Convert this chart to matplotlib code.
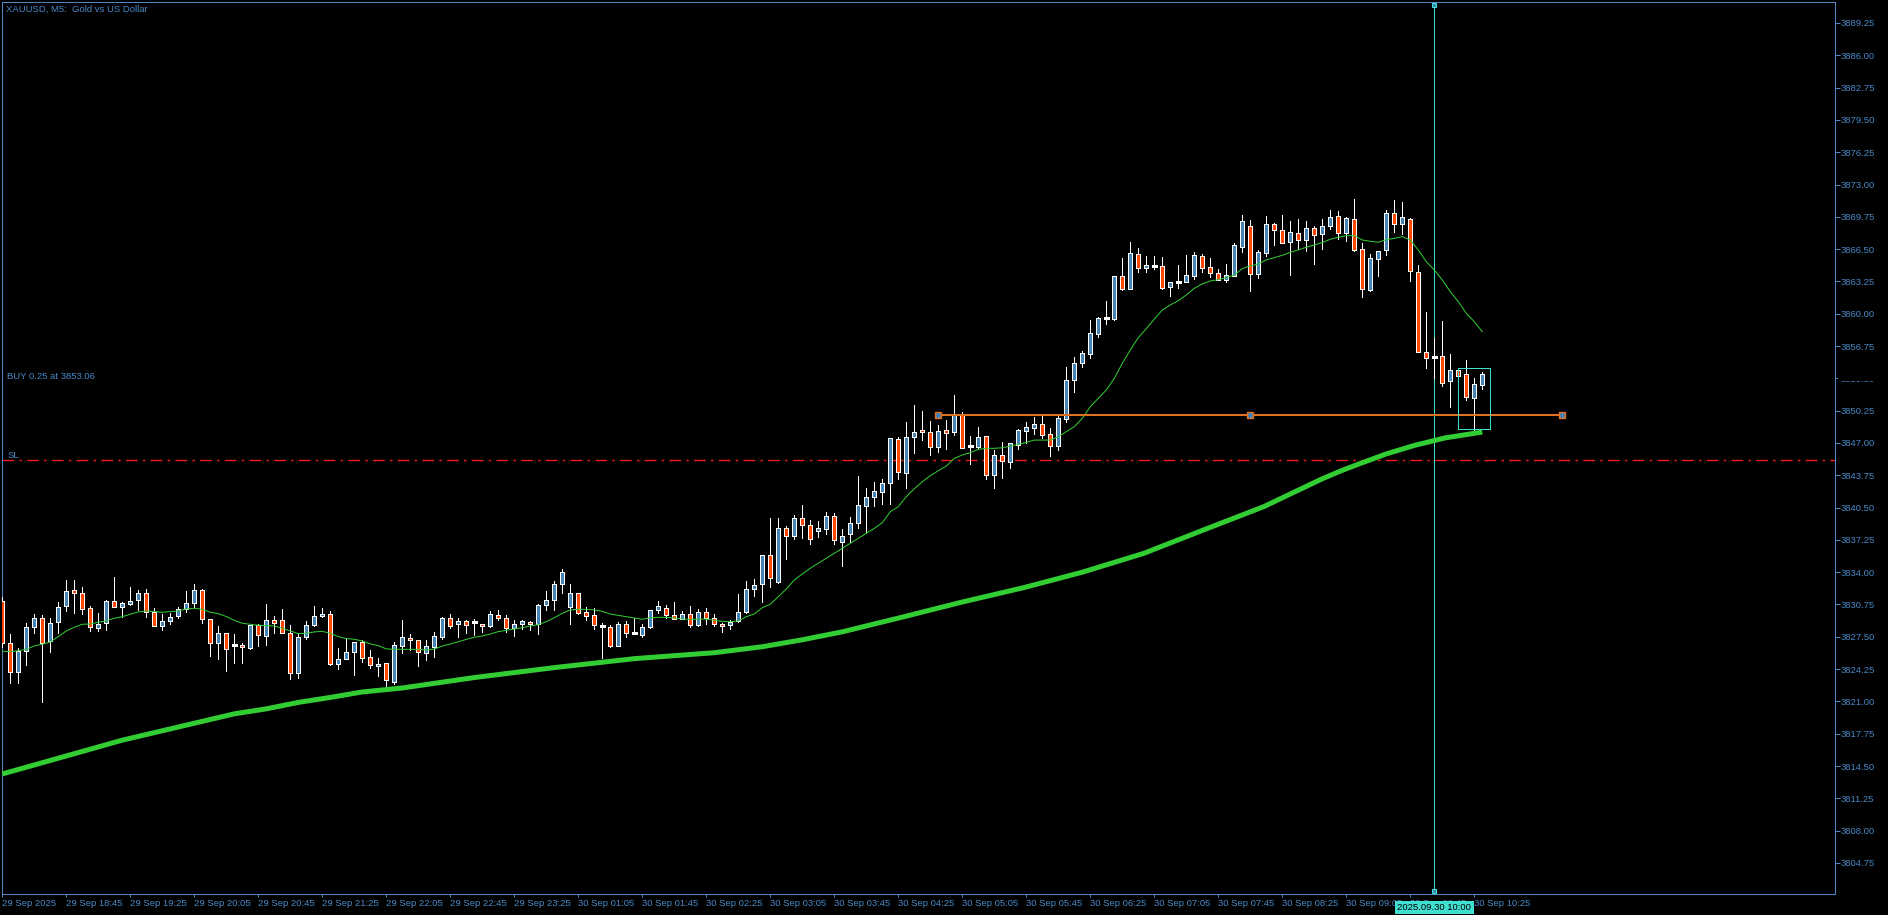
import matplotlib
matplotlib.use('Agg')
import matplotlib.pyplot as plt
from matplotlib.patches import Rectangle

# ---------------- data ----------------
opens = [3831.07, 3826.85, 3823.93, 3826.04, 3828.46, 3829.36, 3827.05, 3828.96, 3830.57, 3832.18,
         3831.88, 3830.37, 3828.36, 3828.86, 3831.07, 3830.47, 3830.77, 3831.17, 3831.88, 3829.97,
         3828.56, 3829.06, 3829.56, 3830.27, 3830.87, 3832.18, 3829.26, 3826.85, 3827.85, 3826.65,
         3826.65, 3826.41, 3828.66, 3827.62, 3829.16, 3829.16, 3827.85, 3823.83, 3827.45, 3828.66,
         3829.56, 3829.76, 3824.80, 3825.24, 3825.94, 3826.95, 3825.44, 3824.53, 3824.83, 3822.92,
         3826.61, 3827.35, 3827.14, 3825.84, 3826.44, 3827.51, 3829.36, 3828.75, 3829.06, 3829.00,
         3828.75, 3828.55, 3829.66, 3829.36, 3828.35, 3828.75, 3828.95, 3828.75, 3830.66, 3831.17,
         3832.78, 3830.46, 3831.87, 3829.96, 3829.66, 3828.55, 3828.45, 3826.61, 3828.75, 3827.85,
         3827.71, 3828.45, 3830.16, 3830.36, 3829.66, 3829.26, 3829.76, 3828.65, 3829.96, 3829.36,
         3828.75, 3828.65, 3829.06, 3829.96, 3832.28, 3832.78, 3835.70, 3832.98, 3838.41, 3837.61,
         3839.42, 3838.74, 3838.10, 3838.34, 3839.65, 3837.00, 3837.80, 3838.91, 3840.69, 3841.59,
         3842.09, 3842.94, 3847.40, 3844.01, 3847.63, 3848.30, 3848.10, 3846.62, 3848.30, 3848.07,
         3849.91, 3846.73, 3846.62, 3847.70, 3843.81, 3845.79, 3845.12, 3846.83, 3848.23, 3848.54,
         3848.90, 3847.90, 3846.73, 3849.44, 3853.36, 3855.08, 3855.98, 3858.00, 3859.57, 3859.50,
         3863.79, 3862.52, 3866.01, 3864.57, 3864.84, 3864.77, 3862.73, 3863.23, 3863.16, 3863.84,
         3865.78, 3864.67, 3864.07, 3863.43, 3863.84, 3866.75, 3868.80, 3864.04, 3866.15, 3869.00,
         3868.40, 3867.19, 3868.10, 3867.39, 3868.60, 3867.99, 3868.80, 3869.80, 3868.10, 3869.50,
         3866.48, 3862.43, 3865.48, 3866.38, 3870.10, 3869.06, 3869.50, 3864.17, 3856.12, 3855.68,
         3855.72, 3853.27, 3854.31, 3853.90, 3851.56, 3852.87]
highs = [3831.50, 3827.79, 3826.34, 3828.86, 3829.80, 3829.70, 3829.36, 3830.97, 3833.22, 3833.22,
         3832.48, 3830.60, 3829.86, 3831.21, 3833.55, 3830.97, 3832.48, 3832.21, 3832.28, 3830.37,
         3829.80, 3829.86, 3830.53, 3832.11, 3832.82, 3832.31, 3829.26, 3828.59, 3827.85, 3827.79,
         3826.85, 3828.66, 3828.76, 3830.80, 3829.60, 3830.27, 3828.66, 3827.85, 3829.10, 3830.60,
         3830.37, 3830.13, 3826.34, 3827.25, 3826.95, 3827.18, 3826.18, 3825.34, 3824.83, 3826.95,
         3829.19, 3827.78, 3827.14, 3827.14, 3827.95, 3829.49, 3829.79, 3829.36, 3829.19, 3829.29,
         3828.75, 3830.10, 3830.20, 3829.69, 3829.19, 3829.19, 3829.06, 3830.76, 3832.11, 3833.08,
         3834.29, 3832.78, 3831.87, 3830.46, 3830.36, 3828.85, 3828.65, 3828.95, 3829.09, 3829.36,
         3828.75, 3830.16, 3831.07, 3830.66, 3830.97, 3830.06, 3830.56, 3830.26, 3830.36, 3829.76,
         3828.85, 3829.16, 3831.77, 3833.08, 3833.28, 3835.70, 3839.42, 3839.42, 3838.61, 3839.72,
         3840.73, 3839.20, 3839.10, 3840.05, 3839.95, 3838.31, 3839.55, 3843.67, 3842.47, 3843.07,
         3843.37, 3847.50, 3847.60, 3849.11, 3850.82, 3850.21, 3849.21, 3848.80, 3849.31, 3851.82,
         3850.11, 3847.70, 3848.60, 3847.70, 3846.29, 3847.09, 3846.99, 3848.40, 3849.11, 3849.61,
         3849.81, 3848.50, 3849.81, 3854.67, 3855.65, 3856.25, 3859.37, 3859.67, 3861.28, 3863.79,
         3865.60, 3867.21, 3866.61, 3865.81, 3865.81, 3865.68, 3863.16, 3864.91, 3865.91, 3866.22,
         3866.02, 3865.58, 3864.47, 3865.01, 3867.09, 3869.91, 3869.40, 3866.38, 3869.80, 3869.10,
         3869.90, 3869.30, 3869.50, 3869.30, 3868.80, 3869.50, 3870.41, 3870.31, 3869.70, 3871.52,
         3867.09, 3865.98, 3866.28, 3870.41, 3871.44, 3871.24, 3869.60, 3864.87, 3860.18, 3857.59,
         3859.27, 3855.95, 3854.51, 3855.31, 3853.54, 3854.14]
lows = [3826.50, 3822.89, 3822.89, 3824.67, 3827.85, 3820.98, 3826.01, 3827.85, 3830.13, 3829.93,
        3829.76, 3828.12, 3828.12, 3828.19, 3830.47, 3829.53, 3830.70, 3830.20, 3829.53, 3828.56,
        3828.22, 3828.76, 3829.43, 3829.97, 3830.53, 3828.93, 3825.61, 3825.30, 3824.10, 3824.90,
        3824.90, 3826.31, 3826.58, 3826.71, 3827.92, 3827.85, 3823.23, 3823.33, 3827.32, 3828.59,
        3829.46, 3824.70, 3824.30, 3825.24, 3823.69, 3825.00, 3824.40, 3823.60, 3822.59, 3822.72,
        3825.90, 3826.17, 3824.56, 3825.17, 3825.50, 3827.28, 3828.38, 3827.51, 3827.85, 3827.68,
        3827.95, 3828.45, 3829.19, 3827.95, 3827.61, 3828.32, 3828.18, 3827.81, 3830.16, 3830.20,
        3831.87, 3828.75, 3829.76, 3829.16, 3828.25, 3825.40, 3826.44, 3826.61, 3827.45, 3827.85,
        3827.51, 3828.35, 3829.86, 3829.36, 3829.26, 3829.26, 3828.45, 3828.55, 3828.75, 3828.55,
        3827.95, 3828.25, 3828.95, 3829.86, 3831.57, 3830.97, 3832.48, 3832.88, 3835.29, 3837.30,
        3837.47, 3836.80, 3837.50, 3837.80, 3836.80, 3834.60, 3837.00, 3838.41, 3838.00, 3840.69,
        3840.89, 3840.89, 3843.41, 3842.50, 3846.02, 3847.30, 3845.82, 3846.12, 3846.42, 3847.80,
        3846.52, 3844.91, 3846.52, 3843.41, 3842.50, 3843.51, 3844.51, 3846.42, 3847.03, 3847.93,
        3847.53, 3845.72, 3846.32, 3849.14, 3852.16, 3854.67, 3855.58, 3857.69, 3859.00, 3859.40,
        3862.42, 3862.52, 3864.20, 3864.24, 3864.54, 3862.53, 3861.82, 3862.63, 3863.16, 3863.54,
        3864.20, 3863.74, 3863.37, 3863.23, 3863.84, 3866.25, 3862.33, 3863.64, 3865.85, 3866.95,
        3867.09, 3863.94, 3866.55, 3866.35, 3865.04, 3866.55, 3868.50, 3867.49, 3867.36, 3866.35,
        3861.72, 3862.33, 3863.84, 3865.95, 3868.26, 3868.06, 3863.33, 3856.19, 3854.58, 3853.57,
        3852.77, 3850.62, 3851.93, 3851.36, 3848.24, 3852.43]
closes = [3826.85, 3823.93, 3826.08, 3828.46, 3829.36, 3826.85, 3828.86, 3830.47, 3832.08, 3831.88,
          3830.33, 3828.46, 3828.76, 3831.07, 3830.47, 3830.87, 3831.14, 3831.88, 3829.97, 3828.56,
          3829.06, 3829.46, 3830.27, 3830.87, 3832.18, 3829.26, 3826.85, 3827.85, 3826.24, 3826.65,
          3826.45, 3828.66, 3827.65, 3829.16, 3828.86, 3827.85, 3823.83, 3827.45, 3828.66, 3829.56,
          3829.76, 3824.80, 3825.24, 3825.94, 3826.95, 3825.34, 3824.63, 3824.73, 3823.12, 3826.65,
          3827.45, 3827.14, 3825.94, 3826.54, 3827.55, 3829.36, 3828.62, 3829.06, 3828.65, 3829.00,
          3828.55, 3829.76, 3829.36, 3828.35, 3828.75, 3829.06, 3828.75, 3830.66, 3831.17, 3832.78,
          3833.98, 3831.87, 3829.86, 3829.56, 3828.65, 3828.55, 3826.61, 3828.75, 3827.85, 3827.85,
          3828.45, 3830.16, 3830.56, 3829.66, 3829.26, 3829.76, 3828.65, 3829.96, 3829.36, 3828.75,
          3828.55, 3828.95, 3829.96, 3832.28, 3832.68, 3835.70, 3833.38, 3838.41, 3837.61, 3839.42,
          3838.71, 3837.30, 3838.48, 3839.65, 3837.20, 3837.60, 3838.94, 3840.76, 3841.56, 3842.16,
          3842.97, 3847.50, 3844.11, 3847.60, 3848.10, 3848.07, 3846.62, 3848.20, 3847.97, 3849.81,
          3846.52, 3846.73, 3847.60, 3843.81, 3845.79, 3845.22, 3846.99, 3848.30, 3848.60, 3848.90,
          3847.80, 3846.73, 3849.51, 3853.33, 3855.04, 3856.05, 3858.06, 3859.57, 3859.57, 3863.79,
          3862.52, 3866.11, 3864.57, 3864.87, 3864.84, 3862.63, 3863.16, 3863.23, 3863.87, 3865.88,
          3864.57, 3864.14, 3863.37, 3863.87, 3866.89, 3869.30, 3864.04, 3866.18, 3869.00, 3868.40,
          3867.16, 3868.20, 3867.39, 3868.60, 3867.90, 3868.80, 3869.70, 3868.10, 3869.60, 3866.45,
          3862.46, 3865.58, 3866.28, 3870.11, 3869.00, 3869.70, 3864.27, 3856.19, 3855.58, 3855.68,
          3853.07, 3854.31, 3853.77, 3851.66, 3852.90, 3853.94]

# thin moving average, one value per bar
ma_fast = [3826.05, 3826.00, 3826.10, 3826.24, 3826.58, 3826.75, 3826.98, 3827.52, 3828.09, 3828.46,
           3828.76, 3828.79, 3828.96, 3829.10, 3829.36, 3829.53, 3829.76, 3830.00, 3830.10, 3830.03,
           3829.97, 3830.03, 3830.10, 3830.30, 3830.37, 3830.27, 3829.97, 3829.83, 3829.53, 3829.16,
           3828.86, 3828.76, 3828.66, 3828.62, 3828.59, 3828.36, 3828.09, 3827.82, 3827.85, 3827.99,
           3828.05, 3827.85, 3827.52, 3827.32, 3827.25, 3827.08, 3826.78, 3826.61, 3826.28, 3826.24,
           3826.24, 3826.24, 3826.24, 3826.17, 3826.27, 3826.57, 3826.77, 3827.01, 3827.24, 3827.45,
           3827.58, 3827.78, 3828.02, 3828.15, 3828.28, 3828.42, 3828.59, 3828.72, 3829.02, 3829.42,
           3829.86, 3830.20, 3830.26, 3830.26, 3830.20, 3830.06, 3829.79, 3829.66, 3829.53, 3829.39,
           3829.26, 3829.42, 3829.46, 3829.46, 3829.39, 3829.29, 3829.26, 3829.26, 3829.29, 3829.16,
           3829.06, 3829.02, 3829.09, 3829.53, 3829.79, 3830.43, 3830.77, 3831.54, 3832.31, 3833.21,
           3833.82, 3834.40, 3834.90, 3835.40, 3835.90, 3836.40, 3836.90, 3837.40, 3837.90, 3838.41,
           3838.98, 3840.09, 3840.59, 3841.59, 3842.40, 3843.10, 3843.71, 3844.21, 3844.68, 3845.45,
           3845.79, 3846.02, 3846.36, 3846.46, 3846.46, 3846.52, 3846.69, 3846.86, 3847.06, 3847.29,
           3847.29, 3847.29, 3847.63, 3848.13, 3848.64, 3849.47, 3850.65, 3851.49, 3852.33, 3853.50,
           3855.01, 3856.35, 3857.60, 3858.50, 3859.45, 3860.38, 3860.88, 3861.32, 3861.89, 3862.56,
           3863.00, 3863.30, 3863.43, 3863.63, 3863.90, 3864.54, 3864.81, 3865.01, 3865.41, 3865.65,
           3865.88, 3866.18, 3866.42, 3866.69, 3866.92, 3867.16, 3867.49, 3867.69, 3867.86, 3867.86,
           3867.42, 3867.29, 3867.19, 3867.45, 3867.59, 3867.76, 3867.42, 3866.41, 3865.24, 3864.40,
           3863.40, 3862.22, 3861.22, 3860.04, 3859.20, 3858.20]

# thick moving average, read at selected bars
ma_slow_bar = [0, 15, 29, 33, 37, 41, 45, 50, 59, 69, 79, 89, 95, 100, 105, 112.6, 120,
               127.7, 135, 142.7, 150, 157.7, 165, 167.5, 169.8, 173, 176.5, 180.3, 185]
ma_slow_val = [3813.7, 3817.1, 3819.75, 3820.25, 3820.9, 3821.4, 3821.95, 3822.35, 3823.4, 3824.4,
               3825.3, 3825.9, 3826.5, 3827.2, 3828.0, 3829.5, 3831.0, 3832.45, 3834.0,
               3835.9, 3838.2, 3840.6, 3843.4, 3844.25, 3844.95, 3845.9, 3846.75, 3847.5, 3848.1]

x_tick_labels = ['29 Sep 2025', '29 Sep 18:45', '29 Sep 19:25', '29 Sep 20:05', '29 Sep 20:45',
                 '29 Sep 21:25', '29 Sep 22:05', '29 Sep 22:45', '29 Sep 23:25', '30 Sep 01:05',
                 '30 Sep 01:45', '30 Sep 02:25', '30 Sep 03:05', '30 Sep 03:45', '30 Sep 04:25',
                 '30 Sep 05:05', '30 Sep 05:45', '30 Sep 06:25', '30 Sep 07:05', '30 Sep 07:45',
                 '30 Sep 08:25', '30 Sep 09:05', '30 Sep 09:45', '30 Sep 10:25']
y_tick_values = [3804.75, 3808.00, 3811.25, 3814.50, 3817.75, 3821.00, 3824.25, 3827.50, 3830.75,
                 3834.00, 3837.25, 3840.50, 3843.75, 3847.00, 3850.25, 3853.50, 3856.75, 3860.00,
                 3863.25, 3866.50, 3869.75, 3873.00, 3876.25, 3879.50, 3882.75, 3886.00, 3889.25]

title_text = 'XAUUSD, M5:  Gold vs US Dollar'
buy_text = 'BUY 0.25 at 3853.06'
sl_price = 3845.26
level_price = 3849.81
level_bars = [117, 156, 195]
cursor_bar = 179
cursor_label = '2025.09.30 10:00'
box_bars = [182, 186]
box_prices = [3848.37, 3854.51]

# ---------------- styling ----------------
W, H = 1888, 915
BG = 'black'
AXC = '#4A88C6'
BULL = '#4682B4'
BEAR = '#FF4500'
GREEN = '#32CD32'
CYAN = '#40E0D0'
ORANGE = '#E0701E'
RED = '#FF1A1A'
FONT = 'Liberation Sans'
FS = 6.8
PX = 0.72  # one pixel in points at dpi 100

plt.rcParams['font.family'] = [FONT, 'DejaVu Sans']

fig = plt.figure(figsize=(W / 100, H / 100), dpi=100, facecolor=BG)
L, R, T, B = 2, 1835, 2, 894
ax = fig.add_axes([L / W, (H - B) / H, (R - L) / W, (B - T) / H], facecolor=BG)

x0 = 2.3  # pixel centre of bar 0
bar_px = 8.0
ax.set_xlim((L - x0) / bar_px, (R - x0) / bar_px)
ppu = 9.94
ax.set_ylim(3889.25 - (B - 23) / ppu, 3889.25 + (23 - T) / ppu)

# candles
bw = 0.5
for i, (o, h, l, c) in enumerate(zip(opens, highs, lows, closes)):
    ax.plot([i, i], [l, h], color='white', lw=PX, zorder=3, antialiased=False,
            solid_capstyle='butt')
    if abs(c - o) < 0.05:
        ax.plot([i - 0.32, i + 0.32], [o, o], color='white', lw=1.3 * PX, zorder=4,
                antialiased=False, solid_capstyle='butt')
    else:
        col = BULL if c > o else BEAR
        ax.add_patch(Rectangle((i - bw / 2, min(o, c)), bw, abs(c - o), facecolor=col,
                               edgecolor='white', lw=PX, zorder=4, antialiased=False))

# moving averages
ax.plot(range(len(ma_fast)), ma_fast, color=GREEN, lw=1.0 * PX, zorder=5)
ax.plot(ma_slow_bar, ma_slow_val, color=GREEN, lw=5 * PX, zorder=5, solid_capstyle='butt',
        solid_joinstyle='round')

# stop-loss line
ax.axhline(sl_price, color=RED, lw=1.3 * PX, zorder=2, dashes=(9, 4, 2, 4))

# horizontal level with anchors
ax.plot([level_bars[0], level_bars[-1]], [level_price, level_price], color=ORANGE,
        lw=2 * PX, zorder=6, solid_capstyle='butt')
ax.plot(level_bars, [level_price] * len(level_bars), ls='none', marker='s', ms=4.6,
        mfc=BULL, mec=ORANGE, mew=1.0, zorder=7)

# vertical cursor line
ax.axvline(cursor_bar, color=CYAN, lw=PX, zorder=2)
ylo, yhi = ax.get_ylim()
ax.plot([cursor_bar, cursor_bar], [yhi - 0.3, ylo + 0.3], ls='none', marker='s', ms=3.0,
        mfc=BULL, mec=CYAN, mew=0.8, zorder=7, clip_on=False)

# box
ax.add_patch(Rectangle((box_bars[0], box_prices[0]), box_bars[1] - box_bars[0],
                       box_prices[1] - box_prices[0], fill=False, edgecolor=CYAN,
                       lw=PX, zorder=6, antialiased=False))

# axes styling
for s in ax.spines.values():
    s.set_color(AXC)
    s.set_linewidth(PX)
ax.yaxis.tick_right()
ax.set_yticks(y_tick_values)
ax.set_yticklabels(['%.2f' % v for v in y_tick_values])
ax.tick_params(axis='y', direction='out', length=5 * PX, width=PX, colors=AXC,
               labelsize=FS, pad=0.6)
ax.set_xticks([8 * k for k in range(len(x_tick_labels))])
ax.set_xticklabels(x_tick_labels)
ax.tick_params(axis='x', direction='out', length=3 * PX, width=PX, colors=AXC,
               labelsize=FS, pad=1.6)
for lbl in ax.get_xticklabels():
    lbl.set_ha('left')

# texts
fig.text(6.5 / W, 1 - 9.5 / H, title_text, color=AXC, fontsize=FS, ha='left', va='center')
fig.text(7.3 / W, 1 - 376.7 / H, buy_text, color=AXC, fontsize=FS, ha='left', va='center')
fig.text(7.3 / W, 1 - 455 / H, 'SL', color=AXC, fontsize=FS, ha='left', va='center')

# hidden price label (covered by the trade line label)
fig.add_artist(Rectangle((1838 / W, 1 - 380.5 / H), 50 / W, 9 / H, transform=fig.transFigure,
                         facecolor=BG, edgecolor='none', zorder=10))

# cursor time label on the time axis
cx = (x0 + bar_px * cursor_bar)
fig.text(cx / W, 1 - 907.5 / H, cursor_label, color='black', fontsize=FS, ha='center',
         va='center', zorder=11,
         bbox=dict(boxstyle='square,pad=0.25', facecolor=CYAN, edgecolor='none'))

fig.savefig('out.png', dpi=100, facecolor=BG)
